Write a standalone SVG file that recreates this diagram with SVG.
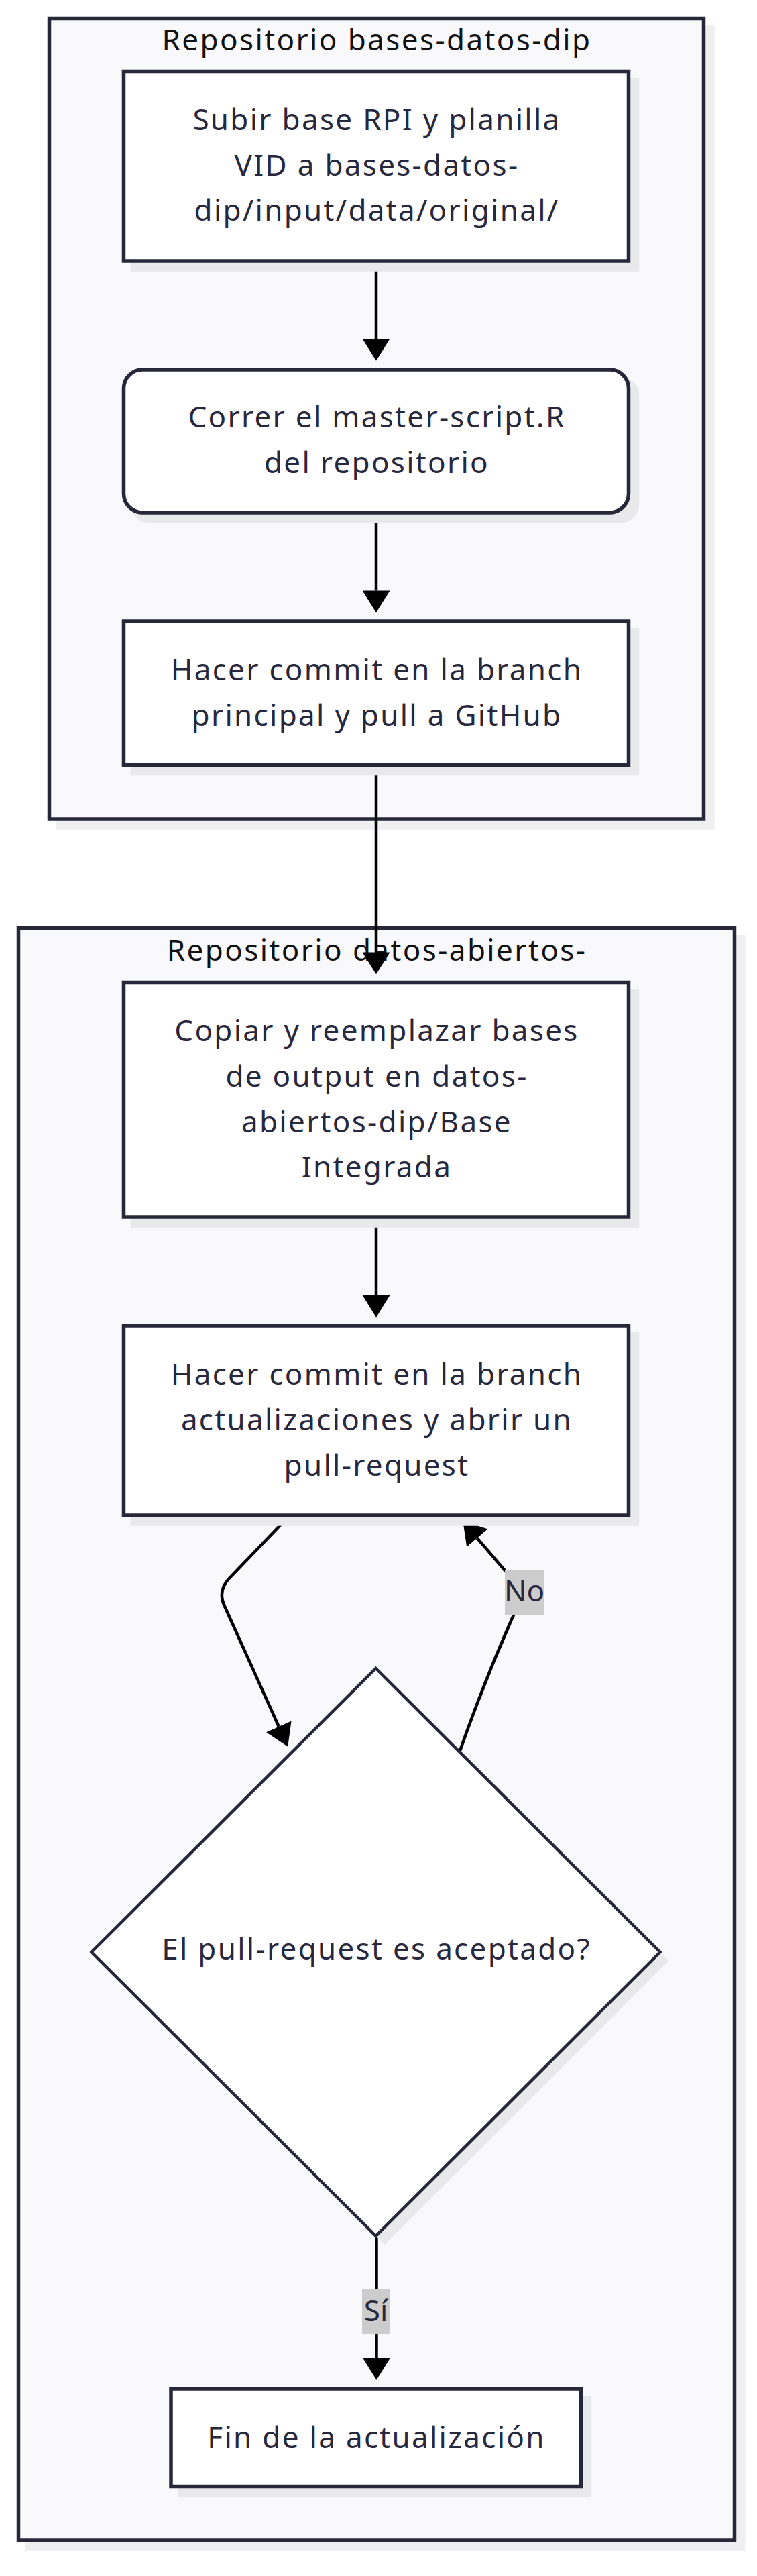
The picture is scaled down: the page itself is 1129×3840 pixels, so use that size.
<svg xmlns="http://www.w3.org/2000/svg" width="1129" height="3840" viewBox="0 0 1129 3840">
<style>
.cluster{fill:#f9f9fb;stroke:#27273a;stroke-width:5.5}
.cshadow{fill:#efeff1}
.node{fill:#ffffff;stroke:#27273a;stroke-width:5.5}
.diam{fill:#ffffff;stroke:#27273a;stroke-width:4.5}
.nshadow{fill:#e9e9ec}
.title{font-family:"Noto Sans","Liberation Sans",sans-serif;font-size:44px;letter-spacing:2.4px;fill:#111111;text-anchor:middle}
.txt{font-family:"Noto Sans","Liberation Sans",sans-serif;font-size:44px;letter-spacing:2.3px;fill:#28283d;text-anchor:middle}
.ltxt{font-family:"Noto Sans","Liberation Sans",sans-serif;font-size:44px;fill:#28283d;text-anchor:middle}
.edge{fill:none;stroke:#000000;stroke-width:4.5}
.lbl{fill:#cccccc}
</style>
<defs>
<marker id="arr" markerUnits="userSpaceOnUse" markerWidth="33" markerHeight="41" viewBox="0 0 32 40" refX="0" refY="20" orient="auto">
<path d="M0,0 L32,20 L0,40 z" fill="#000000"/>
</marker>
</defs>
<rect width="1129" height="3840" fill="#ffffff"/>
<g id="cluster-bases-datos-dip">
<rect class="cshadow" x="84" y="38" width="981.5" height="1199"/>
<rect class="cluster" x="73.5" y="27.5" width="976" height="1193.5"/>
<text class="title" x="562" y="75">Repositorio bases-datos-dip</text>
</g>
<g id="cluster-datos-abiertos">
<rect class="cshadow" x="38" y="1394" width="1073.5" height="2409"/>
<rect class="cluster" x="27.5" y="1383.5" width="1068" height="2403.5"/>
<text class="title" x="562" y="1432">Repositorio datos-abiertos-</text>
</g>
<g id="connectors">
<path class="edge" d="M561,389 V505" marker-end="url(#arr)"/>
<path class="edge" d="M561,764 V880.5" marker-end="url(#arr)"/>
<path class="edge" d="M561,1140.5 V1419.5" marker-end="url(#arr)"/>
<path class="edge" d="M561,1814 V1931" marker-end="url(#arr)"/>
<path class="edge" d="M432,2259 L341.9,2352.7 Q324.4,2371 334.7,2393.7 L415.8,2573.8" marker-end="url(#arr)"/>
<path class="edge" d="M686,2610 Q727,2492 781,2374 L711.7,2292.7" marker-end="url(#arr)"/>
<path class="edge" d="M561.5,3333 V3515" marker-end="url(#arr)"/>
<g id="label-no">
<rect class="lbl" x="753" y="2340" width="58" height="67"/>
<text class="ltxt" x="782" y="2387">No</text>
</g>
<g id="label-si">
<rect class="lbl" x="540" y="3412" width="41" height="67.5"/>
<text class="ltxt" x="560.5" y="3459.5">Sí</text>
</g>
</g>
<g id="node-subir">
<rect class="nshadow" x="194.75" y="116.75" width="758.5" height="288"/>
<rect class="node" x="184.5" y="106.5" width="753" height="282.5"/>
<text class="txt" x="562" y="194">Subir base RPI y planilla</text>
<text class="txt" x="562" y="261.5">VID a bases-datos-</text>
<text class="txt" x="562" y="329">dip/input/data/original/</text>
</g>
<g id="node-correr">
<rect class="nshadow" x="194.75" y="561.25" width="758.5" height="218.5" rx="28"/>
<rect class="node" x="184.5" y="551" width="753" height="213" rx="28"/>
<text class="txt" x="562" y="637">Correr el master-script.R</text>
<text class="txt" x="562" y="705">del repositorio</text>
</g>
<g id="node-commit-principal">
<rect class="nshadow" x="194.75" y="936.25" width="758.5" height="220"/>
<rect class="node" x="184.5" y="926" width="753" height="214.5"/>
<text class="txt" x="562" y="1013.5">Hacer commit en la branch</text>
<text class="txt" x="562" y="1081.5">principal y pull a GitHub</text>
</g>
<g id="node-copiar">
<rect class="nshadow" x="194.75" y="1474.75" width="758.5" height="355"/>
<rect class="node" x="184.5" y="1464.5" width="753" height="349.5"/>
<text class="txt" x="562" y="1552">Copiar y reemplazar bases</text>
<text class="txt" x="562" y="1620">de output en datos-</text>
<text class="txt" x="562" y="1687.5">abiertos-dip/Base</text>
<text class="txt" x="562" y="1755">Integrada</text>
</g>
<g id="node-commit-actualizaciones">
<rect class="nshadow" x="194.75" y="1986.25" width="758.5" height="288.5"/>
<rect class="node" x="184.5" y="1976" width="753" height="283"/>
<text class="txt" x="562" y="2063.5">Hacer commit en la branch</text>
<text class="txt" x="562" y="2131.5">actualizaciones y abrir un</text>
<text class="txt" x="562" y="2199.5">pull-request</text>
</g>
<g id="node-aceptado">
<polygon class="nshadow" points="573.5,2500 997.5,2923 573.5,3346 149.5,2923"/>
<polygon class="diam" points="560.5,2487 984.5,2910 560.5,3333 136.5,2910"/>
<text class="txt" x="561.5" y="2921">El pull-request es aceptado?</text>
</g>
<g id="node-fin">
<rect class="nshadow" x="265.25" y="3571.25" width="617" height="151"/>
<rect class="node" x="255" y="3561" width="611.5" height="145.5"/>
<text class="txt" x="561.5" y="3648.5">Fin de la actualización</text>
</g>
</svg>
